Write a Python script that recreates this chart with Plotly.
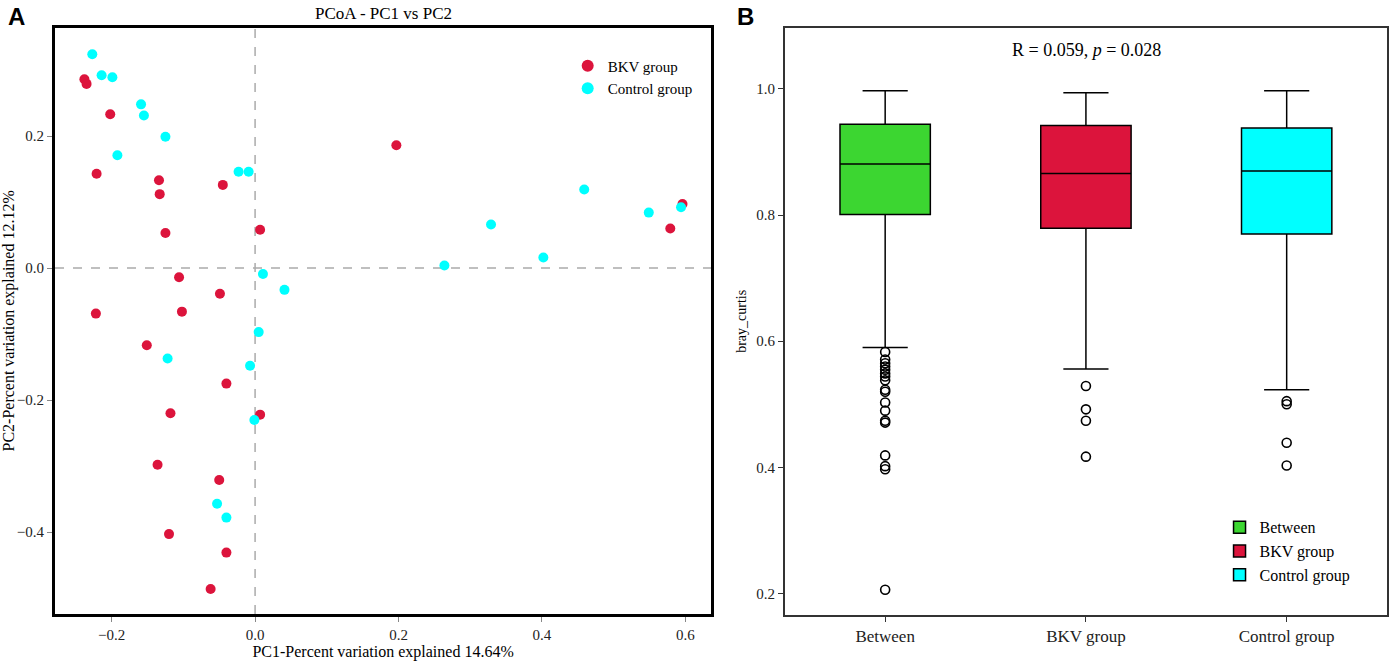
import plotly.graph_objects as go

# PCoA coordinates
bkv_pc1 = [-0.238, -0.235, -0.202, -0.221, -0.134, -0.133, -0.045, -0.125, 0.007,
           -0.106, -0.049, -0.102, -0.222, -0.151, -0.040, -0.118, 0.007, -0.136,
           -0.050, -0.120, -0.040, -0.062, 0.197, 0.596, 0.579]
bkv_pc2 = [0.286, 0.279, 0.233, 0.143, 0.133, 0.112, 0.126, 0.053, 0.058,
           -0.014, -0.039, -0.066, -0.069, -0.117, -0.175, -0.220, -0.222, -0.298,
           -0.321, -0.403, -0.431, -0.486, 0.186, 0.097, 0.060]
ctrl_pc1 = [-0.227, -0.214, -0.199, -0.159, -0.155, -0.125, -0.192, -0.023, -0.009,
            0.011, 0.041, 0.005, -0.122, -0.007, -0.001, -0.053, -0.040,
            0.459, 0.549, 0.594, 0.329, 0.402, 0.264]
ctrl_pc2 = [0.324, 0.292, 0.289, 0.248, 0.231, 0.199, 0.171, 0.146, 0.146,
            -0.009, -0.033, -0.097, -0.137, -0.148, -0.230, -0.357, -0.378,
            0.119, 0.084, 0.092, 0.066, 0.016, 0.004]

# Bray-Curtis box stats (panel B)
groups = ['Between', 'BKV group', 'Control group']
q1 = [0.801, 0.779, 0.770]
median = [0.881, 0.866, 0.870]
q3 = [0.944, 0.942, 0.938]
lower_fence = [0.590, 0.556, 0.523]
upper_fence = [0.997, 0.994, 0.997]
colors = ['#3CD631', '#DC143C', '#00FFFF']

out_between = [0.583, 0.571, 0.565, 0.560, 0.555, 0.549, 0.544, 0.538, 0.523, 0.520,
               0.503, 0.490, 0.474, 0.471, 0.419, 0.402, 0.397, 0.206]
out_bkv = [0.529, 0.492, 0.474, 0.417]
out_ctrl = [0.505, 0.500, 0.439, 0.403]

serif = 'Liberation Serif'

fig = go.Figure()

# panel A: scatter
fig.add_trace(go.Scatter(x=bkv_pc1, y=bkv_pc2, mode='markers', name='BKV group',
                         marker=dict(color='#DC143C', size=10), xaxis='x', yaxis='y',
                         legend='legend'))
fig.add_trace(go.Scatter(x=ctrl_pc1, y=ctrl_pc2, mode='markers', name='Control group',
                         marker=dict(color='#00FFFF', size=10), xaxis='x', yaxis='y',
                         legend='legend'))

# panel B: boxes
for i, g in enumerate(groups):
    fig.add_trace(go.Box(
        x=[g], q1=[q1[i]], median=[median[i]], q3=[q3[i]],
        lowerfence=[lower_fence[i]], upperfence=[upper_fence[i]],
        name=g, fillcolor=colors[i], line=dict(color='black', width=1.5),
        width=0.45, whiskerwidth=0.5, boxpoints=False,
        xaxis='x2', yaxis='y2', legend='legend2'))

outliers = [out_between, out_bkv, out_ctrl]
for g, vals in zip(groups, outliers):
    fig.add_trace(go.Scatter(
        x=[g] * len(vals), y=vals, mode='markers', showlegend=False,
        marker=dict(symbol='circle-open', size=9, color='black', line=dict(width=1.6)),
        xaxis='x2', yaxis='y2'))

# dashed zero lines
fig.add_shape(type='line', xref='x', yref='y domain', x0=0, x1=0, y0=0, y1=1,
              line=dict(color='#aaaaaa', width=1.5, dash='dash'), layer='below')
fig.add_shape(type='line', xref='x domain', yref='y', x0=0, x1=1, y0=0, y1=0,
              line=dict(color='#aaaaaa', width=1.5, dash='dash'), layer='below')

tickfont = dict(family=serif, size=15, color='#222')

fig.update_layout(
    width=1389, height=661,
    margin=dict(l=0, r=0, t=0, b=0),
    plot_bgcolor='white', paper_bgcolor='white',
    font=dict(family=serif, size=14, color='black'),
    xaxis=dict(domain=[0.0396, 0.512], range=[-0.279, 0.636],
               tickvals=[-0.2, 0.0, 0.2, 0.4, 0.6], tickformat='.1f',
               showgrid=False, zeroline=False, showline=True, linewidth=3,
               linecolor='black', mirror=True, ticks='outside', ticklen=5,
               tickcolor='#888', tickfont=tickfont,
               title=dict(text='PC1-Percent variation explained 14.64%',
                          font=dict(family=serif, size=16), standoff=0)),
    yaxis=dict(domain=[0.0711, 0.958], range=[-0.524, 0.364],
               tickvals=[-0.4, -0.2, 0.0, 0.2], tickformat='.1f',
               showgrid=False, zeroline=False, showline=True, linewidth=3,
               linecolor='black', mirror=True, ticks='outside', ticklen=5,
               tickcolor='#888', tickfont=tickfont,
               title=dict(text='PC2-Percent variation explained 12.12%',
                          font=dict(family=serif, size=16), standoff=2)),
    xaxis2=dict(domain=[0.565, 0.9986], range=[-0.5, 2.5], type='category',
                categoryorder='array', categoryarray=groups,
                showgrid=False, zeroline=False, showline=True, linewidth=1.5,
                linecolor='#333', mirror=True, ticks='outside', ticklen=5,
                tickcolor='#333', tickfont=dict(family=serif, size=17, color='#222'),
                anchor='y2'),
    yaxis2=dict(domain=[0.0696, 0.958], range=[0.166, 1.097],
                tickvals=[0.2, 0.4, 0.6, 0.8, 1.0], tickformat='.1f',
                showgrid=False, zeroline=False, showline=True, linewidth=1.5,
                linecolor='#333', mirror=True, ticks='outside', ticklen=5,
                tickcolor='#333', tickfont=tickfont, anchor='x2',
                title=dict(text='bray_curtis', font=dict(family=serif, size=14),
                           standoff=6)),
    legend=dict(x=0.4087, y=0.925, xanchor='left', yanchor='top',
                bgcolor='rgba(0,0,0,0)', font=dict(family=serif, size=15),
                itemsizing='constant', tracegroupgap=0),
    legend2=dict(x=0.878, y=0.228, xanchor='left', yanchor='top',
                 bgcolor='rgba(0,0,0,0)', font=dict(family=serif, size=16),
                 tracegroupgap=0),
    showlegend=True,
)

fig.add_annotation(text='PCoA - PC1 vs PC2', xref='paper', yref='paper',
                   x=0.276, y=0.979, xanchor='center', yanchor='middle',
                   showarrow=False, font=dict(family=serif, size=17))
fig.add_annotation(text='R = 0.059, <i>p</i> = 0.028', xref='paper', yref='paper',
                   x=0.782, y=0.925, xanchor='center', yanchor='middle',
                   showarrow=False, font=dict(family=serif, size=18))
fig.add_annotation(text='<b>A</b>', xref='paper', yref='paper', x=0.004, y=0.975,
                   xanchor='left', yanchor='middle', showarrow=False,
                   font=dict(family='Liberation Sans', size=24))
fig.add_annotation(text='<b>B</b>', xref='paper', yref='paper', x=0.529, y=0.975,
                   xanchor='left', yanchor='middle', showarrow=False,
                   font=dict(family='Liberation Sans', size=24))

# drop the default page margin so the figure sits at the window corner
fig.write_html("out.html", config={'displayModeBar': False},
               post_script="document.body.style.margin='0';")
